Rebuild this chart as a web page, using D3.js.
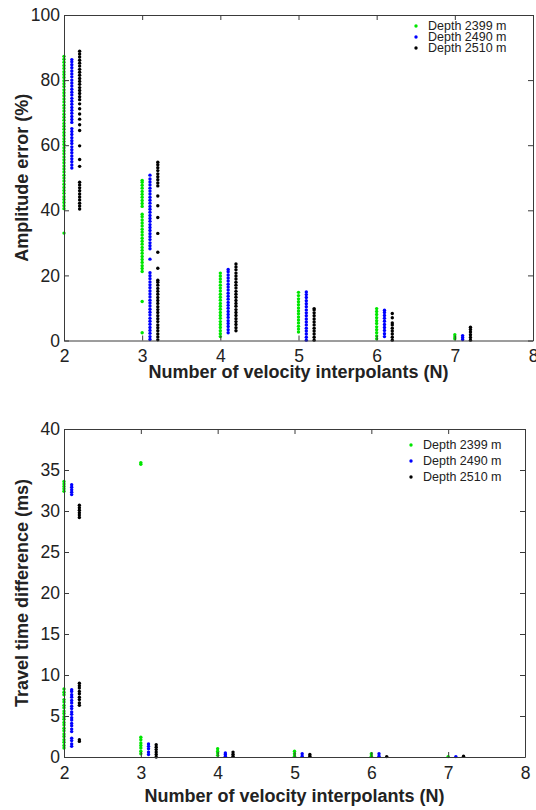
<!DOCTYPE html>
<html>
<head>
<meta charset="utf-8">
<script src="https://cdn.jsdelivr.net/npm/d3@7"></script>
<style>
body { margin: 0; background: #fff; }
svg text { font-family: "Liberation Sans", Arial, sans-serif; }
</style>
</head>
<body>
<div id="chart"></div>
<script>

// categories and tick labels
var N_VALUES = [2, 3, 4, 5, 6, 7];
var X_TICKS = [2, 3, 4, 5, 6, 7, 8];
var AMP_TICKS = [0, 20, 40, 60, 80, 100];
var TT_TICKS = [0, 5, 10, 15, 20, 25, 30, 35, 40];
var DEPTH_LABELS = ['Depth 2399 m', 'Depth 2490 m', 'Depth 2510 m'];

// amplitude error (%), one list of values per N (2..7)
var amp_2399 = [
    [33.0, 40.5, 41.4, 42.4, 43.3, 44.2, 45.2, 46.1, 47.0, 48.0, 49.0, 49.9, 50.8, 51.8, 52.7, 53.6, 54.6, 55.5, 56.4, 57.4, 58.3, 59.2, 60.2, 61.1, 62.0, 63.0, 63.9, 64.9, 65.8, 66.7, 67.7, 68.6, 69.5, 70.5, 71.4, 72.3, 73.3, 74.2, 75.2, 76.1, 77.0, 78.0, 78.9, 79.8, 80.8, 81.7, 82.6, 83.6, 84.5, 85.5, 86.4, 87.3],
    [2.4, 12.0, 21.2, 22.1, 23.0, 24.0, 24.9, 25.8, 26.8, 27.7, 28.6, 29.6, 30.5, 31.4, 32.4, 33.3, 34.2, 35.2, 36.1, 37.0, 38.0, 38.8, 41.2, 42.1, 43.0, 44.0, 44.9, 45.8, 46.8, 47.7, 48.6, 49.2],
    [1.2, 2.1, 3.0, 4.0, 4.9, 5.8, 6.8, 7.7, 8.6, 9.6, 10.5, 11.4, 12.4, 13.3, 14.2, 15.2, 16.1, 17.0, 18.0, 18.9, 19.8, 20.7],
    [2.6, 3.5, 4.4, 5.4, 6.3, 7.2, 8.2, 9.1, 10.0, 11.0, 11.9, 12.8, 13.8, 14.8],
    [0.5, 1.4, 2.4, 3.3, 4.2, 5.2, 6.1, 7.0, 8.0, 8.9, 9.8],
    [0.5, 1.1, 1.8]
];
var amp_2490 = [
    [53.0, 53.9, 54.9, 55.8, 56.7, 57.7, 58.6, 59.5, 60.5, 61.4, 62.3, 63.3, 64.2, 65.1, 67.0, 67.9, 68.8, 69.8, 70.7, 71.6, 72.6, 73.5, 74.4, 75.4, 76.3, 77.2, 78.2, 79.1, 80.0, 81.0, 81.9, 82.8, 83.8, 84.7, 85.6, 86.3],
    [0.3, 1.2, 2.2, 3.1, 4.0, 5.0, 5.9, 6.8, 7.8, 8.7, 9.6, 10.6, 11.5, 12.4, 13.4, 14.3, 15.2, 16.2, 17.1, 18.0, 19.0, 19.9, 20.8, 25.0, 28.2, 29.1, 30.0, 31.0, 31.9, 32.8, 33.8, 34.7, 35.6, 36.6, 37.5, 38.4, 39.4, 40.3, 41.2, 42.2, 43.1, 44.0, 45.0, 45.9, 46.8, 47.8, 48.7, 49.6, 50.8],
    [2.4, 3.3, 4.3, 5.2, 6.1, 7.1, 8.0, 8.9, 9.9, 10.8, 11.7, 12.7, 13.6, 14.5, 15.5, 16.4, 17.3, 18.3, 19.2, 20.1, 21.1, 21.8],
    [0.1, 1.0, 2.0, 2.9, 3.8, 4.8, 5.7, 6.6, 7.6, 8.5, 9.4, 10.4, 11.3, 12.2, 13.2, 14.1, 14.9],
    [1.2, 2.1, 3.1, 4.0, 4.9, 5.9, 6.8, 7.7, 8.6, 9.3],
    [0.3, 0.9, 1.5]
];
var amp_2510 = [
    [40.4, 41.3, 42.2, 43.2, 44.1, 45.0, 46.0, 46.9, 47.8, 48.6, 53.5, 55.6, 59.8, 64.5, 66.3, 68.0, 69.6, 71.2, 72.7, 74.0, 74.9, 75.9, 76.8, 77.7, 78.7, 79.6, 80.5, 81.5, 82.4, 83.3, 84.3, 85.2, 86.1, 87.1, 88.0, 88.9],
    [0.2, 1.1, 2.0, 3.0, 3.9, 4.8, 5.8, 6.7, 7.6, 8.6, 9.5, 10.4, 11.4, 12.3, 13.2, 14.2, 15.1, 16.0, 17.0, 17.9, 18.5, 22.2, 27.1, 32.9, 37.8, 41.4, 44.4, 47.5, 48.4, 49.4, 50.3, 51.2, 52.2, 53.1, 54.0, 54.8],
    [3.0, 3.9, 4.9, 5.8, 6.7, 7.7, 8.6, 9.5, 10.5, 11.4, 12.3, 13.3, 14.2, 15.1, 16.1, 17.0, 17.9, 18.9, 19.8, 20.7, 21.7, 22.6, 23.5],
    [0.1, 1.0, 2.0, 2.9, 3.8, 4.8, 5.7, 6.6, 7.6, 8.5, 9.4, 9.8],
    [0.1, 1.0, 2.0, 2.9, 3.8, 4.8, 5.4, 7.0, 8.3],
    [0.1, 0.9, 1.8, 2.6, 3.4, 4.1]
];

// travel time difference (ms), one list of values per N (2..7)
var tt_2399 = [
    [1.1, 1.4, 1.8, 2.1, 2.5, 2.8, 3.2, 3.5, 3.9, 4.2, 4.6, 4.9, 5.3, 5.6, 6.0, 6.3, 6.7, 7.0, 7.6, 7.9, 8.3, 32.4, 32.7, 33.0, 33.3, 33.6],
    [0.4, 0.7, 1.1, 1.4, 1.7, 2.1, 2.4, 35.7, 35.9],
    [0.2, 0.5, 0.7, 1.0],
    [0.1, 0.4, 0.7],
    [0.1, 0.4],
    [0.05]
];
var tt_2490 = [
    [1.3, 1.6, 2.0, 2.3, 3.1, 3.4, 3.8, 4.1, 4.5, 4.8, 5.2, 5.5, 5.9, 6.2, 6.6, 6.9, 7.3, 7.6, 8.0, 8.2, 32.0, 32.3, 32.6, 32.9, 33.2],
    [0.3, 0.6, 1.0, 1.3, 1.6],
    [0.1, 0.3, 0.5],
    [0.1, 0.4],
    [0.1, 0.4],
    [0.05]
];
var tt_2510 = [
    [1.9, 2.1, 6.3, 6.6, 7.0, 7.3, 7.7, 8.0, 8.4, 8.7, 9.0, 29.2, 29.5, 29.8, 30.1, 30.4, 30.7],
    [0.0, 0.3, 0.6, 0.9, 1.2, 1.5],
    [0.1, 0.35, 0.6],
    [0.1, 0.3],
    [0.05],
    [0.1]
];

var COLORS = ['#00e600', '#0000ff', '#000000'];
var DODGE = [0, 0.1, 0.2];
var FONT = '"Liberation Sans", Arial, sans-serif';

var svg = d3.select('#chart')
    .append('svg')
    .attr('width', 536)
    .attr('height', 810);

function flatten_series(series, k) {
    var pts = [];
    series.forEach(function(col, i) {
        col.forEach(function(v) {
            pts.push([N_VALUES[i] + DODGE[k], v]);
        });
    });
    return pts;
}

function draw_panel(cfg) {

    var xScale = d3.scaleLinear()
        .domain([2, 8])
        .range([cfg.left, cfg.right]);

    var yScale = d3.scaleLinear()
        .domain([0, cfg.ymax])
        .range([cfg.bottom, cfg.top]);

    var g = svg.append('g');

    // points, green first so black lands on top
    cfg.series.forEach(function(series, k) {
        g.append('g')
            .selectAll('circle')
            .data(flatten_series(series, k))
            .enter()
            .append('circle')
            .attr('cx', function(d) { return xScale(d[0]); })
            .attr('cy', function(d) { return yScale(d[1]); })
            .attr('r', 1.7)
            .attr('fill', COLORS[k]);
    });

    var fmt = d3.format('d');

    var xAxis = d3.axisBottom(xScale).tickValues(X_TICKS).tickFormat(fmt).tickSize(-5).tickSizeOuter(0).tickPadding(cfg.xpad);
    var xTop = d3.axisTop(xScale).tickValues(X_TICKS).tickSize(-5).tickSizeOuter(0).tickFormat('');
    var yAxis = d3.axisLeft(yScale).tickValues(cfg.yticks).tickFormat(fmt).tickSize(-5).tickSizeOuter(0).tickPadding(4);
    var yRight = d3.axisRight(yScale).tickValues(cfg.yticks).tickSize(-5).tickSizeOuter(0).tickFormat('');

    var axes = [
        [xAxis, 'translate(0,' + cfg.bottom + ')'],
        [xTop, 'translate(0,' + cfg.top + ')'],
        [yAxis, 'translate(' + cfg.left + ',0)'],
        [yRight, 'translate(' + cfg.right + ',0)']
    ];

    axes.forEach(function(a) {
        var ag = g.append('g')
            .attr('transform', a[1])
            .call(a[0]);
        ag.attr('font-size', 17.5).attr('font-family', FONT);
        ag.selectAll('path, line').attr('stroke', '#3a3a3a').attr('stroke-width', 1);
        ag.selectAll('text').attr('fill', '#222');
    });

    // legend
    DEPTH_LABELS.forEach(function(label, k) {
        var ly = cfg.legendY + k * cfg.legendStep;
        g.append('circle')
            .attr('cx', cfg.legendX)
            .attr('cy', ly)
            .attr('r', 1.7)
            .attr('fill', COLORS[k]);
        g.append('text')
            .attr('x', cfg.legendX + 12)
            .attr('y', ly)
            .attr('dy', '0.35em')
            .attr('font-size', 12.5)
            .attr('fill', '#222')
            .text(label);
    });

    g.append('text')
        .attr('text-anchor', 'middle')
        .attr('font-size', 18)
        .attr('font-weight', 'bold')
        .attr('fill', '#222')
        .attr('x', (cfg.left + cfg.right) / 2)
        .attr('y', cfg.xlabelY)
        .text('Number of velocity interpolants (N)');

    g.append('text')
        .attr('text-anchor', 'middle')
        .attr('font-size', 18)
        .attr('font-weight', 'bold')
        .attr('fill', '#222')
        .attr('transform', 'translate(28,' + ((cfg.top + cfg.bottom) / 2) + ') rotate(-90)')
        .text(cfg.ylabel);
}

draw_panel({
    left: 64, right: 533, top: 15, bottom: 340.5,
    ymax: 100, yticks: AMP_TICKS, xpad: 9.5,
    series: [amp_2399, amp_2490, amp_2510],
    legendX: 416, legendY: 26, legendStep: 11,
    xlabelY: 378,
    ylabel: 'Amplitude error (%)'
});

draw_panel({
    left: 64, right: 525, top: 429, bottom: 757,
    ymax: 40, yticks: TT_TICKS, xpad: 10,
    series: [tt_2399, tt_2490, tt_2510],
    legendX: 411, legendY: 445, legendStep: 16,
    xlabelY: 802,
    ylabel: 'Travel time difference (ms)'
});

</script>
</body>
</html>
